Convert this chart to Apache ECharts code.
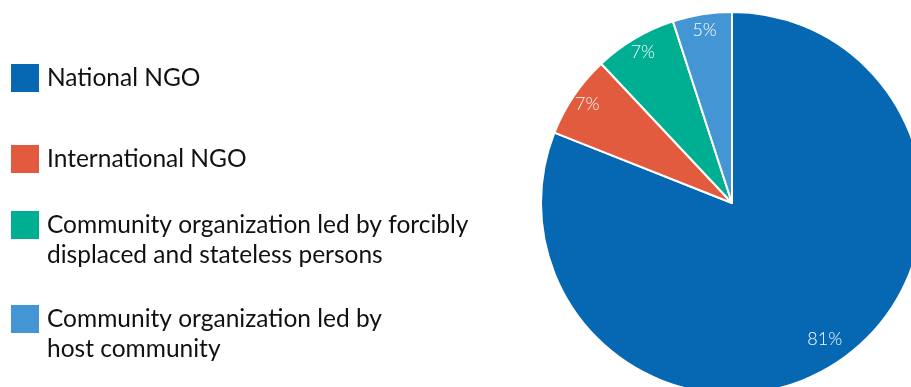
<!DOCTYPE html>
<html>
<head>
<meta charset="utf-8">
<script src="https://cdn.jsdelivr.net/npm/echarts@6/dist/echarts.min.js"></script>
<style>
  html, body { margin: 0; padding: 0; background: #fff; }
  #main { width: 911px; height: 387px; }
</style>
</head>
<body>
<div id="main"></div>
<script>
var dom = document.getElementById('main');
var myChart = echarts.init(dom);

// data
var categories = [
    'National NGO',
    'International NGO',
    'Community organization led by forcibly\ndisplaced and stateless persons',
    'Community organization led by\nhost community'
];
var shares = [81, 7, 7, 5];
var colors = ['#0668b3', '#e35b3e', '#00ae92', '#4396d3'];

// where each legend row sits (top of its box)
var legendTops = [63, 144, 180, 274];

var data = categories.map(function (name, i) {
    return { name: name, value: shares[i], itemStyle: { color: colors[i] } };
});

var legends = categories.map(function (name, i) {
    return {
        data: [name],
        orient: 'vertical',
        left: 11,
        top: legendTops[i],
        padding: 0,
        itemWidth: 28,
        itemHeight: 28,
        icon: 'rect',
        itemStyle: { borderWidth: 0 },
        selectedMode: false,
        formatter: function (n) {
            // a leading blank line keeps the square level with the first line
            return n.indexOf('\n') >= 0 ? '\n' + n : n;
        },
        textStyle: {
            fontFamily: 'Lato',
            fontSize: 24.5,
            lineHeight: 30,
            color: '#111',
            padding: [0, 0, 0, 3]
        }
    };
});

var labelStyle = {
    show: true,
    position: 'inside',
    color: '#fff',
    fontFamily: 'Lato',
    fontSize: 18,
    fontWeight: 300,
    formatter: '{c}%'
};

option = {
    animation: false,
    legend: legends,
    series: [{
        type: 'pie',
        center: [732, 203],
        radius: [0, 191],
        startAngle: 90,
        clockwise: true,
        label: { show: false },
        labelLine: { show: false },
        itemStyle: { borderColor: '#fff', borderWidth: 2 },
        emphasis: { disabled: true },
        data: data
    }, {
        // labels for the small slices, near the rim
        type: 'pie',
        center: [732, 203],
        radius: [153, 191],
        startAngle: 90,
        silent: true,
        itemStyle: { color: 'rgba(0,0,0,0)' },
        label: labelStyle,
        labelLine: { show: false },
        data: categories.map(function (name, i) {
            return { name: name, value: shares[i], label: { show: i > 0 } };
        })
    }, {
        // label for the big slice, a little further in
        type: 'pie',
        center: [732, 203],
        radius: [133, 191],
        startAngle: 90,
        silent: true,
        itemStyle: { color: 'rgba(0,0,0,0)' },
        label: labelStyle,
        labelLine: { show: false },
        data: categories.map(function (name, i) {
            return { name: name, value: shares[i], label: { show: i === 0 } };
        })
    }]
};

myChart.setOption(option);
</script>
</body>
</html>
